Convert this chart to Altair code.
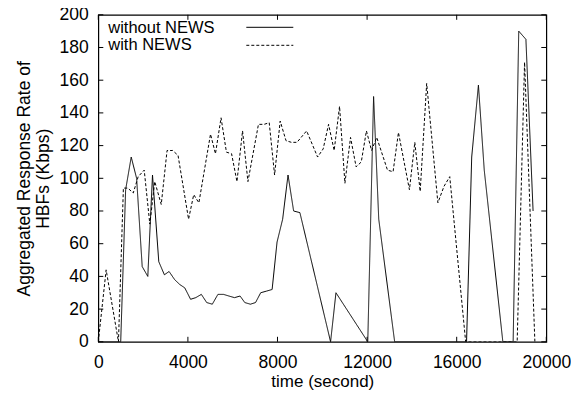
import altair as alt
import pandas as pd

# ---- data ----
series_names = ["without NEWS", "with NEWS"]

without_t = [0, 1000, 1220, 1470, 1710, 1960, 2210, 2420, 2700, 2950, 3160, 3410,
             3640, 3860, 4120, 4350, 4600, 4840, 5090, 5340, 5590, 5830, 6080, 6330,
             6540, 6790, 7020, 7250, 7510, 7760, 7980, 8230, 8470, 8720, 9000, 10370,
             10610, 12030, 12290, 12520, 13230, 16440, 16670, 16970, 17230, 18060,
             18520, 18770, 19090, 19410]
without_v = [0, 0, 93, 113, 100, 46, 40, 102, 49, 41, 43, 38,
             35, 33, 26, 27, 29, 24, 23, 29, 29, 28, 27, 28,
             24, 23, 24, 30, 31, 32, 61, 75, 102, 80, 79, 0,
             30, 0, 150, 75, 0, 0, 113, 157, 105, 0,
             0, 190, 185, 80]

with_t = [0, 350, 900, 1120, 1320, 1560, 1780, 2050, 2300, 2520, 2810, 3070, 3320,
          3560, 4030, 4260, 4490, 5010, 5230, 5480, 5720, 5950, 6190, 6440, 6680,
          7150, 7400, 7630, 7870, 8120, 8380, 8620, 8870, 9300, 9790, 10040, 10280,
          10530, 10770, 11010, 11260, 11510, 11740, 11970, 12200, 12430, 12910,
          13160, 13400, 13890, 14130, 14370, 14660, 15160, 15430, 15690, 16400,
          16650, 17000, 17500, 18000, 18500, 18700, 19030, 19490]
with_v = [0, 44, 0, 94, 94, 91, 101, 105, 72, 98, 84, 117, 117,
          114, 75, 90, 85, 127, 115, 137, 116, 115, 98, 129, 98,
          133, 133, 134, 102, 135, 123, 122, 122, 129, 113, 118, 133,
          117, 144, 97, 125, 107, 110, 129, 117, 125, 105,
          104, 128, 93, 122, 92, 158, 85, 95, 101, 0,
          0, 0, 0, 0, 0, 0, 171, 0]

x_ticks = [0, 4000, 8000, 12000, 16000, 20000]
y_ticks = [0, 20, 40, 60, 80, 100, 120, 140, 160, 180, 200]

W, H = 448, 327
FONT = "Liberation Sans"
FS = 17.5

df = pd.concat([
    pd.DataFrame({"t": without_t, "v": without_v, "series": series_names[0]}),
    pd.DataFrame({"t": with_t, "v": with_v, "series": series_names[1]}),
])

x_scale = alt.Scale(domain=[0, 20000], nice=False, zero=False)
y_scale = alt.Scale(domain=[0, 200], nice=False)

x_axis = alt.Axis(values=x_ticks, format="d", title="time (second)",
                  grid=False, ticks=False, tickSize=0, domain=False,
                  labelPadding=12, titlePadding=2, labelOverlap=False,
                  labelFlush=False,
                  labelFont=FONT, labelFontSize=FS, labelColor="black",
                  titleFont=FONT, titleFontSize=17, titleColor="black",
                  titleFontWeight="normal")
y_axis = alt.Axis(values=y_ticks, format="d",
                  title=["Aggregated Response Rate of", "HBFs (Kbps)"],
                  grid=False, ticks=False, tickSize=0, domain=False,
                  labelPadding=10, titlePadding=7, labelOverlap=False,
                  labelFlush=False,
                  labelFont=FONT, labelFontSize=FS, labelColor="black",
                  titleFont=FONT, titleFontSize=FS, titleColor="black",
                  titleFontWeight="normal", titleLineHeight=19)

lines = alt.Chart(df).mark_line(color="black", strokeWidth=1, clip=True).encode(
    x=alt.X("t:Q", scale=x_scale, axis=x_axis),
    y=alt.Y("v:Q", scale=y_scale, axis=y_axis),
    strokeDash=alt.StrokeDash("series:N",
                              scale=alt.Scale(domain=series_names, range=[[1, 0], [3, 2]]),
                              legend=None),
    detail="series:N",
)

ydf = pd.DataFrame({"v": y_ticks})
xdf = pd.DataFrame({"t": x_ticks})
TL = 5
left_ticks = alt.Chart(ydf).mark_rule(color="black", strokeWidth=1).encode(
    y=alt.Y("v:Q", scale=y_scale, axis=y_axis), x=alt.value(0), x2=alt.value(TL))
right_ticks = alt.Chart(ydf).mark_rule(color="black", strokeWidth=1).encode(
    y=alt.Y("v:Q", scale=y_scale, axis=y_axis), x=alt.value(W - TL), x2=alt.value(W))
bottom_ticks = alt.Chart(xdf).mark_rule(color="black", strokeWidth=1).encode(
    x=alt.X("t:Q", scale=x_scale, axis=x_axis), y=alt.value(H), y2=alt.value(H - TL))
top_ticks = alt.Chart(xdf).mark_rule(color="black", strokeWidth=1).encode(
    x=alt.X("t:Q", scale=x_scale, axis=x_axis), y=alt.value(0), y2=alt.value(TL))

# manual legend (label left, sample line right, as in the reference)
LFS = 16.5
leg_rows = [(series_names[0], 18.5, 12.5, []), (series_names[1], 35.5, 30.5, [3, 2])]
legend_layers = []
for name, ybase, yline, dash in leg_rows:
    ld = pd.DataFrame({"label": [name]})
    legend_layers.append(
        alt.Chart(ld).mark_text(align="left", baseline="alphabetic", font=FONT,
                                fontSize=LFS, color="black").encode(
            x=alt.value(10), y=alt.value(ybase), text="label:N"))
    rule_kwargs = dict(color="black", strokeWidth=1)
    if dash:
        rule_kwargs["strokeDash"] = dash
    legend_layers.append(
        alt.Chart(ld).mark_rule(**rule_kwargs).encode(
            x=alt.value(148), x2=alt.value(195), y=alt.value(yline)))

chart = alt.layer(lines, left_ticks, right_ticks, bottom_ticks, top_ticks,
                  *legend_layers).properties(
    width=W, height=H,
    background="white",
    autosize=alt.AutoSizeParams(type="none"),
    padding={"left": 90.3, "top": 6.8, "right": 24.5, "bottom": 48},
).configure_view(stroke="black", strokeWidth=1.2)

chart.save("out.html", embed_options={"renderer": "svg", "actions": False})
